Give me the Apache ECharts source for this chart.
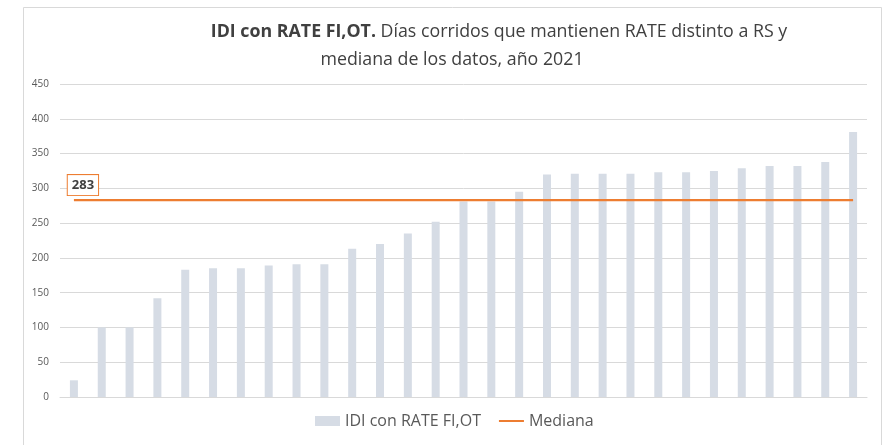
<!DOCTYPE html>
<html>
<head>
<meta charset="utf-8">
<script src="https://cdn.jsdelivr.net/npm/echarts@6/dist/echarts.min.js"></script>
<style>
html,body{margin:0;padding:0;background:#fff;}
#c{width:884px;height:445px;}
</style>
</head>
<body>
<div id="c"></div>
<script>
var categories = ['1','2','3','4','5','6','7','8','9','10','11','12','13','14','15','16','17','18','19','20','21','22','23','24','25','26','27','28','29'];
var idiValues = [24,100,100,142,183,185,185,189,191,191,213,220,235,252,281,281,295,320,321,321,321,323,323,325,329,332,332,338,381];
var medianValue = 283;
var yTicks = [0,50,100,150,200,250,300,350,400,450];
var seriesNames = ['IDI con RATE FI,OT','Mediana'];
var titleLine1Bold = 'IDI con RATE FI,OT.';
var titleLine1Rest = ' Días corridos que mantienen RATE distinto a RS y';
var titleLine2 = 'mediana de los datos, año 2021';

var font = "'Open Sans', 'Liberation Sans', sans-serif";
var medianData = categories.map(function(c, i){
  if (i === 0) {
    return {
      value: medianValue,
      label: {
        show:true, position:'top', distance:5, offset:[9,0],
        fontFamily:font, fontSize:13, fontWeight:'bold', color:'#404040',
        backgroundColor:'#ffffff', borderColor:'#ed7d31', borderWidth:1,
        padding:[4,4,3,4]
      }
    };
  }
  return medianValue;
});
// horizontal line legend icon (bounding box 25x10, band in the middle)
var lineIcon = 'path://M0,0L0.01,0ZM0,4L25,4L25,6L0,6ZM25,10L24.99,10Z';

var chart = echarts.init(document.getElementById('c'), null, {renderer:'canvas'});
chart.setOption({
  backgroundColor:'#ffffff',
  animation:false,
  textStyle:{fontFamily:font},
  graphic:[{
    type:'rect', silent:true, z:-10,
    shape:{x:23.5, y:7.5, width:858, height:460},
    style:{fill:'#ffffff', stroke:'#d9d9d9', lineWidth:1}
  }],
  title:[{
    text:'{b|'+titleLine1Bold+'}{n|'+titleLine1Rest+'}',
    left:494, top:18, textAlign:'center',
    textStyle:{fontWeight:'normal', rich:{
      b:{fontFamily:font, fontSize:17.8, fontWeight:'bold', color:'#404040'},
      n:{fontFamily:font, fontSize:17.8, fontWeight:'normal', color:'#404040'}
    }}
  },{
    text:titleLine2,
    left:447, top:46, textAlign:'center',
    textStyle:{fontFamily:font, fontSize:17.8, fontWeight:'normal', color:'#404040'}
  }],
  legend:{
    bottom:11, left:310,
    itemWidth:25, itemHeight:10, itemGap:18,
    textStyle:{fontFamily:font, fontSize:16, color:'#595959'},
    data:[{name:seriesNames[0], icon:'rect'},{name:seriesNames[1], icon:lineIcon, itemStyle:{color:'#ed7d31'}}]
  },
  grid:{left:60, right:17, top:84, bottom:48, containLabel:false},
  xAxis:{
    type:'category', data:categories,
    axisLine:{show:true, lineStyle:{color:'#d9d9d9'}},
    axisTick:{show:false}, axisLabel:{show:false}
  },
  yAxis:{
    type:'value', min:0, max:450, interval:50,
    axisLine:{show:false}, axisTick:{show:false},
    axisLabel:{fontFamily:font, fontSize:10, color:'#595959', margin:11,
      formatter:function(v){ return yTicks.indexOf(v) >= 0 ? String(v) : ''; }},
    splitLine:{lineStyle:{color:'#d9d9d9', width:1}}
  },
  series:[{
    name:seriesNames[0], type:'bar', data:idiValues, barWidth:8,
    itemStyle:{color:'#d6dce5'}
  },{
    name:seriesNames[1], type:'line', data:medianData,
    symbol:'circle', symbolSize:0.1, showSymbol:true,
    lineStyle:{color:'#ed7d31', width:2.25},
    itemStyle:{color:'#ed7d31'},
    label:{show:false},
    z:5
  }]
});
</script>
</body>
</html>
